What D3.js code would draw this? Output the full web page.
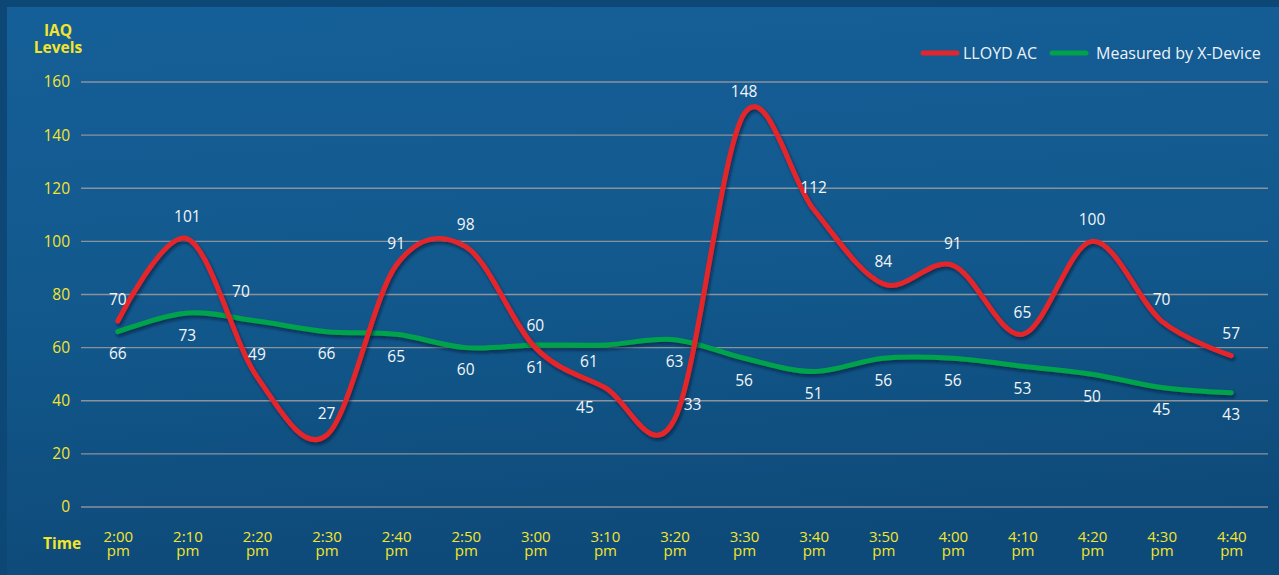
<!DOCTYPE html>
<html>
<head>
<meta charset="utf-8">
<script src="https://cdn.jsdelivr.net/npm/d3@7"></script>
<style>
  html, body { margin: 0; padding: 0; background: #0c4775; }
  svg { display: block; }
</style>
</head>
<body>
<svg id="chart" width="1279" height="575"></svg>
<script>
// ---- data ----
const times = ["2:00","2:10","2:20","2:30","2:40","2:50","3:00","3:10","3:20","3:30","3:40","3:50","4:00","4:10","4:20","4:30","4:40"];
const lloydAC = [70,101,49,27,91,98,60,45,33,148,112,84,91,65,100,70,57];
const xDevice = [66,73,70,66,65,60,61,61,63,56,51,56,56,53,50,45,43];
const yTicks = [0,20,40,60,80,100,120,140,160];
const seriesNames = ["LLOYD AC","Measured by X-Device"];

// ---- styling / layout ----
const W = 1279, H = 575;
const plotLeft = 81, plotRight = 1268, plotTop = 82, plotBottom = 507;
const red = "#e4262b", green = "#00a24c", yellow = "#f3e52c";
const FONT = "'Open Sans', 'Noto Sans', sans-serif";
// label placement tweaks (dx, dy relative to the point) for crowded spots
const labelNudge = {
  0: { 7: [-20, 20], 8: [18, -15] },
  1: { 2: [-16, -30], 7: [-16, 16] }
};

const svg = d3.select("#chart");
const defs = svg.append("defs");
const grad = defs.append("linearGradient").attr("id","bg").attr("x1",0).attr("y1",0).attr("x2",0.15).attr("y2",1);
grad.append("stop").attr("offset","0%").attr("stop-color","#155f98");
grad.append("stop").attr("offset","55%").attr("stop-color","#12588c");
grad.append("stop").attr("offset","100%").attr("stop-color","#0e4a79");
const f = defs.append("filter").attr("id","shadow").attr("x","-5%").attr("y","-10%").attr("width","110%").attr("height","130%");
f.append("feDropShadow").attr("dx",1.5).attr("dy",2.5).attr("stdDeviation",1.6)
  .attr("flood-color","#02182c").attr("flood-opacity",0.6);

// background
svg.append("rect").attr("width",W).attr("height",H).attr("fill","#0c4775");
svg.append("rect").attr("x",7).attr("y",7).attr("width",W-7).attr("height",H-7).attr("fill","url(#bg)");

// scales
const x = d3.scalePoint().domain(times).range([83, 1266]).padding(0.5);
const y = d3.scaleLinear().domain([0,160]).range([plotBottom, plotTop]);

// gridlines
svg.append("g").selectAll("line").data(yTicks).join("line")
  .attr("x1", plotLeft).attr("x2", plotRight)
  .attr("y1", d => y(d)).attr("y2", d => y(d))
  .attr("stroke", "#8c929a").attr("stroke-width", 1.4);

// y axis
const yAxis = svg.append("g").attr("transform", `translate(${plotLeft},0)`)
  .call(d3.axisLeft(y).tickValues(yTicks).tickSize(0).tickPadding(11));
yAxis.select(".domain").remove();
yAxis.selectAll("text").attr("fill", yellow).style("font-family", FONT).style("font-size", "15.5px");

// x axis
const xAxis = svg.append("g").attr("transform", `translate(0,${plotBottom})`)
  .call(d3.axisBottom(x).tickSize(0).tickFormat(""));
xAxis.select(".domain").remove();
xAxis.selectAll(".tick").each(function(d) {
  const t = d3.select(this).append("text").attr("fill", yellow)
    .attr("text-anchor","middle").style("font-family", FONT).style("font-size","15px");
  t.append("tspan").attr("x",0).attr("y",35).text(d);
  t.append("tspan").attr("x",0).attr("y",49).text("pm");
});

// axis titles
const titleStyle = sel => sel.attr("fill", yellow).attr("text-anchor","middle")
  .style("font-family", FONT).style("font-weight","700").style("font-size","15.5px");
const yt = svg.append("text").call(titleStyle);
yt.append("tspan").attr("x",58).attr("y",36).text("IAQ");
yt.append("tspan").attr("x",58).attr("y",53).text("Levels");
svg.append("text").call(titleStyle).attr("x",62).attr("y",549).text("Time");

// lines
const line = d3.line().x((d,i) => x(times[i])).y(d => y(d)).curve(d3.curveCatmullRom.alpha(0));
const series = [lloydAC, xDevice];
const colors = [red, green];
[1,0].forEach(s => {
  svg.append("path").datum(series[s]).attr("d", line)
    .attr("fill","none").attr("stroke", colors[s]).attr("stroke-width", 5)
    .attr("stroke-linecap","round").attr("stroke-linejoin","round")
    .attr("filter","url(#shadow)");
});

// data labels
series.forEach((vals, s) => {
  svg.append("g").selectAll("text").data(vals).join("text")
    .attr("x", (d,i) => x(times[i]) + ((labelNudge[s][i] || [0])[0]))
    .attr("y", (d,i) => y(d) + (labelNudge[s][i] ? labelNudge[s][i][1] : (s === 0 ? -22 : 22)))
    .attr("dy","0.36em").attr("text-anchor","middle")
    .attr("fill","#f4f6f8").style("font-family", FONT).style("font-size","15.5px")
    .text(d => d);
});

// legend
const legend = svg.append("g");
const legendItems = [
  { name: seriesNames[0], color: red, x1: 923, x2: 957, tx: 963 },
  { name: seriesNames[1], color: green, x1: 1052, x2: 1086, tx: 1096 }
];
legendItems.forEach(it => {
  legend.append("line").attr("x1", it.x1).attr("x2", it.x2).attr("y1",53).attr("y2",53)
    .attr("stroke", it.color).attr("stroke-width",5).attr("stroke-linecap","round");
  legend.append("text").attr("x", it.tx).attr("y",53).attr("dy","0.35em")
    .attr("fill","#eef2f6").style("font-family", FONT).style("font-size","16px").text(it.name);
});
</script>
</body>
</html>
